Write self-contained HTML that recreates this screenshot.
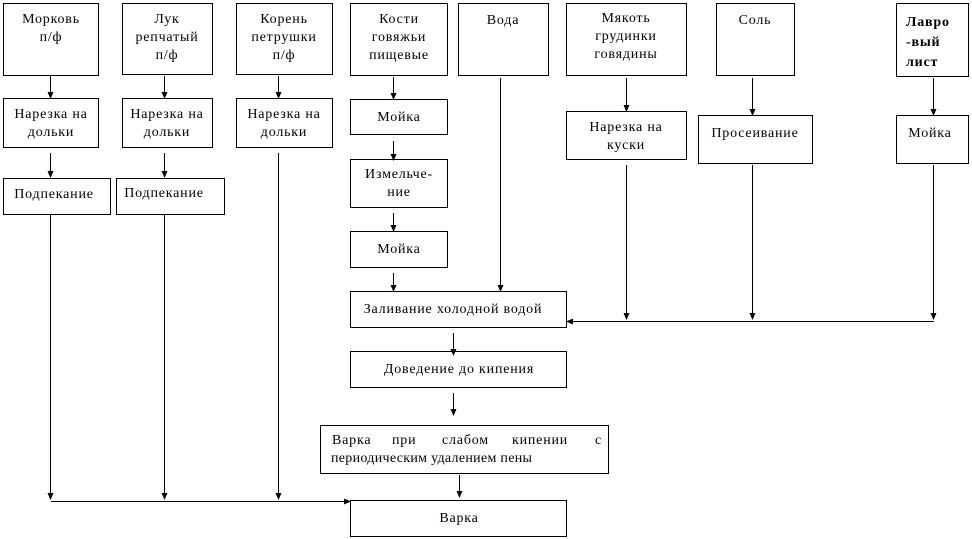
<!DOCTYPE html>
<html><head><meta charset="utf-8"><style>
html,body{margin:0;padding:0;background:#fff;}
svg{display:block;}
text{font-family:"Liberation Serif",serif;font-size:14px;letter-spacing:0.8px;fill:#000;}
</style></head><body>
<svg width="972" height="539" xmlns="http://www.w3.org/2000/svg">
<defs><marker id="a" markerWidth="7" markerHeight="6" refX="6" refY="3" orient="auto" markerUnits="userSpaceOnUse"><path d="M0,0L7,3L0,6z" fill="#000"/></marker></defs>
<g fill="none" stroke="#000" stroke-width="1">
<rect x="3.5" y="3.5" width="95" height="72"/>
<rect x="122.5" y="3.5" width="90" height="71"/>
<rect x="236.5" y="3.5" width="96" height="71"/>
<rect x="350.5" y="3.5" width="97" height="72"/>
<rect x="458.5" y="3.5" width="90" height="72"/>
<rect x="566.5" y="3.5" width="120" height="72"/>
<rect x="716.5" y="3.5" width="78" height="72"/>
<rect x="896.5" y="3.5" width="72" height="73"/>
<rect x="3.5" y="98.5" width="95" height="49"/>
<rect x="122.5" y="98.5" width="90" height="49"/>
<rect x="236.5" y="98.5" width="96" height="49"/>
<rect x="350.5" y="99.5" width="97" height="35"/>
<rect x="566.5" y="111.5" width="120" height="48"/>
<rect x="698.5" y="115.5" width="114" height="48"/>
<rect x="896.5" y="115.5" width="72" height="48"/>
<rect x="3.5" y="178.5" width="107" height="36"/>
<rect x="116.5" y="178.5" width="108" height="36"/>
<rect x="350.5" y="159.5" width="97" height="48"/>
<rect x="350.5" y="231.5" width="97" height="36"/>
<rect x="350.5" y="291.5" width="216" height="36"/>
<rect x="350.5" y="351.5" width="216" height="36"/>
<rect x="320.5" y="425.5" width="288" height="48"/>
<rect x="350.5" y="500.5" width="216" height="36"/>
<g marker-end="url(#a)">
<line x1="50.5" y1="76" x2="50.5" y2="98"/>
<line x1="164.5" y1="76" x2="164.5" y2="98"/>
<line x1="278.5" y1="76" x2="278.5" y2="98"/>
<line x1="393.5" y1="77" x2="393.5" y2="99"/>
<line x1="50.5" y1="153" x2="50.5" y2="177"/>
<line x1="164.5" y1="153" x2="164.5" y2="177"/>
<line x1="393.5" y1="141" x2="393.5" y2="160"/>
<line x1="393.5" y1="213" x2="393.5" y2="231"/>
<line x1="393.5" y1="273" x2="393.5" y2="291"/>
<line x1="500.5" y1="78" x2="500.5" y2="291"/>
<line x1="626.5" y1="78" x2="626.5" y2="111"/>
<line x1="752.5" y1="78" x2="752.5" y2="115"/>
<line x1="933.5" y1="78" x2="933.5" y2="115"/>
<line x1="626.5" y1="165" x2="626.5" y2="319"/>
<line x1="752.5" y1="165" x2="752.5" y2="319"/>
<line x1="933.5" y1="165" x2="933.5" y2="319"/>
<line x1="934" y1="321.5" x2="567" y2="321.5"/>
<line x1="453.5" y1="333" x2="453.5" y2="355"/>
<line x1="453.5" y1="393" x2="453.5" y2="415"/>
<line x1="459.5" y1="475" x2="459.5" y2="497"/>
<line x1="50.5" y1="214" x2="50.5" y2="499"/>
<line x1="164.5" y1="214" x2="164.5" y2="499"/>
<line x1="278.5" y1="153" x2="278.5" y2="499"/>
<line x1="51" y1="501.5" x2="350" y2="501.5"/>
</g>
</g>
<g text-anchor="middle">
<text x="51" y="23">Морковь</text><text x="51" y="41">п/ф</text>
<text x="167" y="23">Лук</text><text x="167" y="41">репчатый</text><text x="167" y="59">п/ф</text>
<text x="284" y="23">Корень</text><text x="284" y="41">петрушки</text><text x="284" y="59">п/ф</text>
<text x="399" y="23">Кости</text><text x="399" y="41">говяжьи</text><text x="399" y="59">пищевые</text>
<text x="503" y="24">Вода</text>
<text x="626" y="22">Мякоть</text><text x="626" y="40">грудинки</text><text x="626" y="58">говядины</text>
<text x="755" y="24">Соль</text>
<text x="51" y="118">Нарезка на</text><text x="51" y="136">дольки</text>
<text x="167" y="118">Нарезка на</text><text x="167" y="136">дольки</text>
<text x="284" y="118">Нарезка на</text><text x="284" y="136">дольки</text>
<text x="399" y="121">Мойка</text>
<text x="399" y="178">Измельче-</text><text x="399" y="196">ние</text>
<text x="399" y="253">Мойка</text>
<text x="626" y="131">Нарезка на</text><text x="626" y="149">куски</text>
<text x="755" y="137">Просеивание</text>
<text x="930" y="137">Мойка</text>
<text x="54" y="198">Подпекание</text>
<text x="164" y="197">Подпекание</text>
<text x="453" y="313">Заливание холодной водой</text>
<text x="459" y="373">Доведение до кипения</text>
<text x="459" y="522">Варка</text>
</g>
<text x="332" y="444">Варка</text><text x="392" y="444">при</text><text x="442" y="444">слабом</text><text x="512" y="444">кипении</text><text x="595" y="444">с</text>
<text x="331" y="462" style="letter-spacing:0.3px">периодическим удалением пены</text>
<g style="font-family:'Liberation Serif',serif;font-size:16px;font-weight:bold;letter-spacing:0">
<text x="906" y="26">Лавро</text><text x="906" y="46">-вый</text><text x="906" y="66">лист</text>
</g>
</svg>
</body></html>
